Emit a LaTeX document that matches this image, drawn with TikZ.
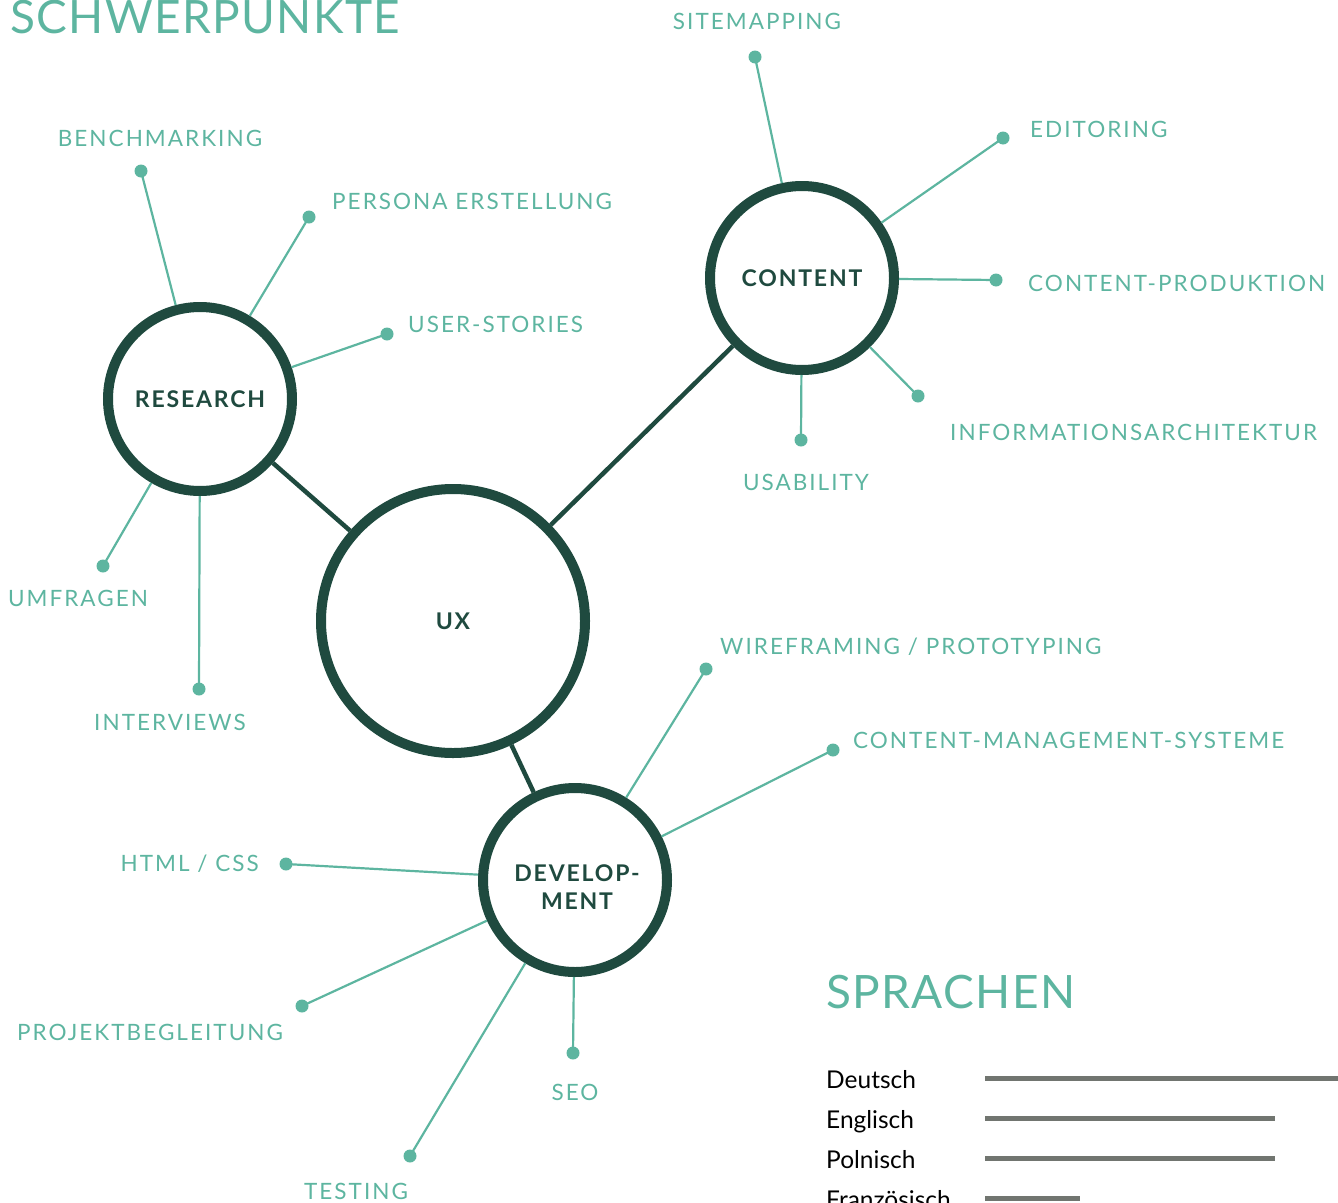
\documentclass[tikz,border=0pt]{standalone}
\usepackage{fontspec}
\setmainfont{Lato}
\newfontfamily\lblfont[LetterSpace=9]{Lato}
\newfontfamily\hubfont[LetterSpace=8]{Lato Bold}
\newfontfamily\headfont[LetterSpace=3]{Lato}
\definecolor{teal}{HTML}{5DB5A0}
\definecolor{darkgreen}{HTML}{1F4A3F}
\definecolor{bargray}{HTML}{717570}
\tikzset{
  hub/.style={circle, draw=darkgreen, line width=10pt, fill=white, inner sep=0pt, minimum size=#1, align=center, text=darkgreen, font=\hubfont\fontsize{23}{28}\selectfont},
  hubtext/.style={inner sep=0pt, align=center, text=darkgreen, font=\hubfont\fontsize{23}{28}\selectfont},
  dot/.style={circle, fill=teal, inner sep=0pt, minimum size=13pt},
  spoke/.style={draw=teal, line width=2.2pt},
  link/.style={draw=darkgreen, line width=4.5pt},
  lbl/.style={text=teal, inner sep=0pt, font=\lblfont\fontsize{22.5}{26}\selectfont},
  heading/.style={text=teal, inner sep=0pt, font=\headfont\fontsize{46}{50}\selectfont},
  lang/.style={text=black, inner sep=0pt, anchor=base west, font=\fontsize{24.5}{28}\selectfont},
  bar/.style={draw=bargray, line width=5pt}
}
\begin{document}
\begin{tikzpicture}[x=1pt,y=-1pt]
\useasboundingbox (0,0) rectangle (1338,1202);

% headings
\node[heading, anchor=base west] (h1) at (10,33) {SCHWERPUNKTE};
\node[heading, anchor=base west] (h2) at (826,1008) {SPRACHEN};

% dots
\node[dot] (d1) at (141,171) {};
\node[dot] (d2) at (309,217) {};
\node[dot] (d3) at (387,334) {};
\node[dot] (d4) at (103,566) {};
\node[dot] (d5) at (199,689) {};
\node[dot] (c1) at (755,57) {};
\node[dot] (c2) at (1003,138) {};
\node[dot] (c3) at (996,280) {};
\node[dot] (c4) at (918,396) {};
\node[dot] (c5) at (801,440) {};
\node[dot] (v1) at (706,669) {};
\node[dot] (v2) at (833,750) {};
\node[dot] (v3) at (286,864) {};
\node[dot] (v4) at (302,1006) {};
\node[dot] (v5) at (573,1053) {};
\node[dot] (v6) at (410,1156) {};

% hubs
\node[hub=264pt] (ux) at (453,621) {UX};
\node[hub=184pt] (research) at (200,399) {RESEARCH};
\node[hub=184pt] (content) at (802,278) {CONTENT};
\node[hub=184pt] (dev) at (575,880) {};
\node[hubtext] (devtext) at (577,887) {DEVELOP-\\MENT};

% dark links
\draw[link] (research) -- (ux);
\draw[link] (ux) -- (content);
\draw[link] (ux) -- (dev);

% spokes
\foreach \d in {d1,d2,d3,d4,d5} \draw[spoke] (research) -- (\d.center);
\foreach \d in {c1,c2,c3,c4,c5} \draw[spoke] (content) -- (\d.center);
\foreach \d in {v1,v2,v3,v4,v5,v6} \draw[spoke] (dev) -- (\d.center);

% labels
\node[lbl, anchor=base] (l1) at (160,146) {BENCHMARKING};
\node[lbl, anchor=base west] (l2) at (332,209) {PERSONA ERSTELLUNG};
\node[lbl, anchor=base west] (l3) at (408,332) {USER-STORIES};
\node[lbl, anchor=base] (l4) at (78,606) {UMFRAGEN};
\node[lbl, anchor=base] (l5) at (170,730) {INTERVIEWS};
\node[lbl, anchor=base] (m1) at (757,29) {SITEMAPPING};
\node[lbl, anchor=base west] (m2) at (1030,137) {EDITORING};
\node[lbl, anchor=base west] (m3) at (1028,291) {CONTENT-PRODUKTION};
\node[lbl, anchor=base west] (m4) at (950,440) {INFORMATIONSARCHITEKTUR};
\node[lbl, anchor=base] (m5) at (806,490) {USABILITY};
\node[lbl, anchor=base west] (n1) at (720,654) {WIREFRAMING / PROTOTYPING};
\node[lbl, anchor=base west] (n2) at (853,748) {CONTENT-MANAGEMENT-SYSTEME};
\node[lbl, anchor=base east] (n3) at (259,871) {HTML / CSS};
\node[lbl, anchor=base] (n4) at (150,1040) {PROJEKTBEGLEITUNG};
\node[lbl, anchor=base] (n5) at (575,1100) {SEO};
\node[lbl, anchor=base] (n6) at (356,1199) {TESTING};

% languages
\node[lang] (s1) at (826,1088) {Deutsch};
\node[lang] (s2) at (826,1128) {Englisch};
\node[lang] (s3) at (826,1168) {Polnisch};
\node[lang] (s4) at (826,1208) {Französisch};
\coordinate (b1a) at (985,1078); \coordinate (b1b) at (1338,1078);
\coordinate (b2a) at (985,1118); \coordinate (b2b) at (1275,1118);
\coordinate (b3a) at (985,1158); \coordinate (b3b) at (1275,1158);
\coordinate (b4a) at (985,1198); \coordinate (b4b) at (1080,1198);
\draw[bar] (b1a) -- (b1b);
\draw[bar] (b2a) -- (b2b);
\draw[bar] (b3a) -- (b3b);
\draw[bar] (b4a) -- (b4b);
\end{tikzpicture}
\end{document}
